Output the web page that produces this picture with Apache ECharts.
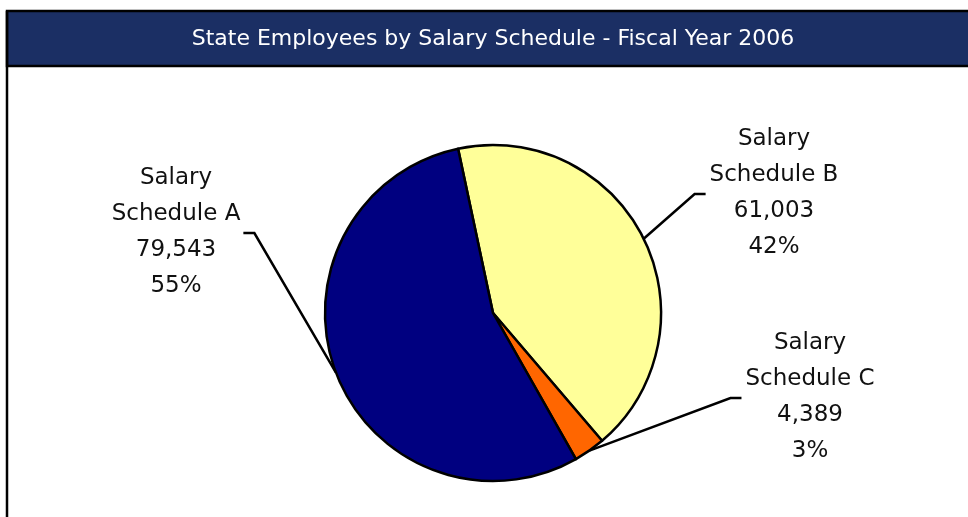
<!DOCTYPE html>
<html>
<head>
<meta charset="utf-8">
<script src="https://cdn.jsdelivr.net/npm/echarts@6/dist/echarts.min.js"></script>
<style>
  html, body { margin: 0; padding: 0; background: #fff; }
</style>
</head>
<body>
<div id="pieChart_salary" style="width: 968px; height: 517px;"></div>
<script>
  // data, in drawing order (clockwise from the top)
  const categories = ['Salary\nSchedule B', 'Salary\nSchedule C', 'Salary\nSchedule A'];
  const employees = [61003, 4389, 79543];
  const colors = ['#ffff99', '#ff6600', '#000080'];

  // where each label block sits (centre) and which side its leader comes from
  const labelPos = [[774, 193], [810, 397], [176, 232]];
  const labelSide = ['left', 'left', 'right'];

  let pieChart_salary = echarts.init(document.getElementById('pieChart_salary'));

  let option_salary = {
    animation: false,
    graphic: [
      {
        type: 'rect',
        shape: { x: 7, y: 11, width: 975, height: 55 },
        style: { fill: '#1b2f64', stroke: '#000', lineWidth: 2.5 }
      },
      {
        type: 'line',
        shape: { x1: 7, y1: 11, x2: 7, y2: 530 },
        style: { stroke: '#000', lineWidth: 2.5 }
      },
      {
        type: 'text',
        x: 493,
        y: 39,
        style: {
          text: 'State Employees by Salary Schedule - Fiscal Year 2006',
          fill: '#fff',
          font: '22px "DejaVu Sans"',
          textAlign: 'center',
          textVerticalAlign: 'middle'
        }
      }
    ],
    series: [
      {
        name: 'Salary Schedule',
        type: 'pie',
        center: [493, 313],
        radius: 168,
        startAngle: 102,
        clockwise: true,
        itemStyle: {
          borderColor: '#000',
          borderWidth: 2.5
        },
        label: {
          show: true,
          color: '#111',
          fontFamily: 'DejaVu Sans',
          fontSize: 23,
          lineHeight: 36,
          align: 'center',
          formatter: function (p) {
            return p.name + '\n' + p.value.toLocaleString('en-US') + '\n' + Math.round(p.percent) + '%';
          }
        },
        labelLine: {
          show: true,
          lineStyle: { color: '#000', width: 2.5 }
        },
        labelLayout: function (p) {
          const i = p.dataIndex;
          const cx = labelPos[i][0];
          const cy = labelPos[i][1];
          const w = p.labelRect.width;
          let endX, elbowX;
          if (labelSide[i] === 'left') {
            endX = cx - w / 2 - 4;
            elbowX = endX - 11;
          } else {
            endX = cx + w / 2 + 3;
            elbowX = endX + 11;
          }
          const edge = p.labelLinePoints ? p.labelLinePoints[0] : [cx, cy];
          return {
            x: cx,
            y: cy,
            align: 'center',
            verticalAlign: 'middle',
            labelLinePoints: [edge, [elbowX, cy + 1], [endX, cy + 1]]
          };
        },
        data: categories.map(function (name, i) {
          return { name: name, value: employees[i], itemStyle: { color: colors[i] } };
        })
      }
    ]
  };

  pieChart_salary.setOption(option_salary);
</script>
</body>
</html>
